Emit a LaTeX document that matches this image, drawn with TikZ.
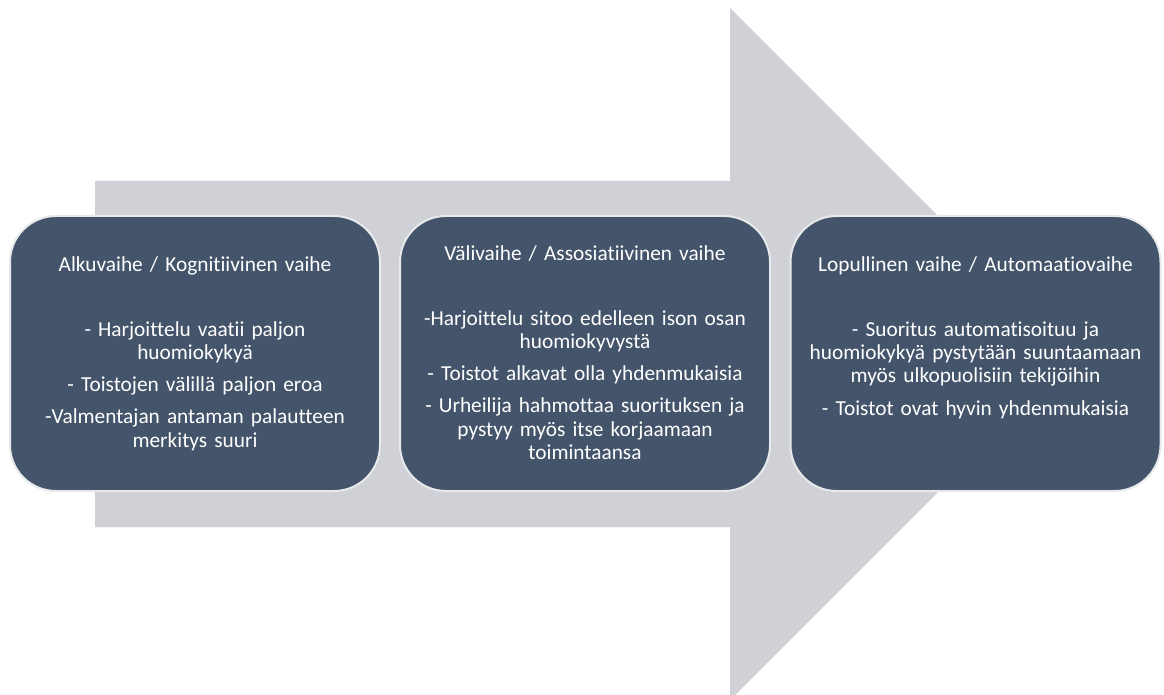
\documentclass[tikz,border=0pt]{standalone}
\usepackage{fontspec}
\setmainfont{Carlito}[Ligatures={NoCommon}]
\definecolor{arrowgray}{RGB}{208,209,214}
\definecolor{slate}{RGB}{68,84,106}
\definecolor{rim}{RGB}{232,233,235}
\begin{document}
\begin{tikzpicture}[x=0.75pt,y=-0.75pt,
	phase/.style={fill=slate, draw=rim, line width=1.5pt, rounded corners=34.5pt, minimum width=277.5pt, minimum height=206.25pt, inner sep=0pt},
	phasetext/.style={text=white, text width=270pt, align=center, anchor=base, font=\fontsize{16}{17.55}\selectfont}]
			\clip (0,0) rectangle (1164,695);
			\fill[arrowgray] (95,181) -- (730,181) -- (730,8) -- (1076,354) -- (730,700) -- (730,527) -- (95,527) -- cycle;
			\node[phase] (A) at (195,353.5) {};
			\node[phase] (B) at (585,353.5) {};
			\node[phase] (C) at (975.5,353.5) {};
			\node[phasetext] (A') at (195,271.7) {Alkuvaihe / Kognitiivinen vaihe\\[30.8pt]
				- Harjoittelu vaatii paljon\\ huomiokykyä\\[6.5pt]
				- Toistojen välillä paljon eroa\\[6.5pt]
				-Valmentajan antaman palautteen\\ merkitys suuri};
			\node[phasetext] (B') at (585,260.7) {Välivaihe / Assosiatiivinen vaihe\\[30.8pt]
				-Harjoittelu sitoo edelleen ison osan\\ huomiokyvystä\\[6.5pt]
				- Toistot alkavat olla yhdenmukaisia\\[6.5pt]
				- Urheilija hahmottaa suorituksen ja\\ pystyy myös itse korjaamaan\\ toimintaansa};
			\node[phasetext] (C') at (975.5,271.7) {Lopullinen vaihe / Automaatiovaihe\\[30.8pt]
				- Suoritus automatisoituu ja\\ huomiokykyä pystytään suuntaamaan\\ myös ulkopuolisiin tekijöihin\\[6.5pt]
				- Toistot ovat hyvin yhdenmukaisia};
		\end{tikzpicture}
\end{document}
